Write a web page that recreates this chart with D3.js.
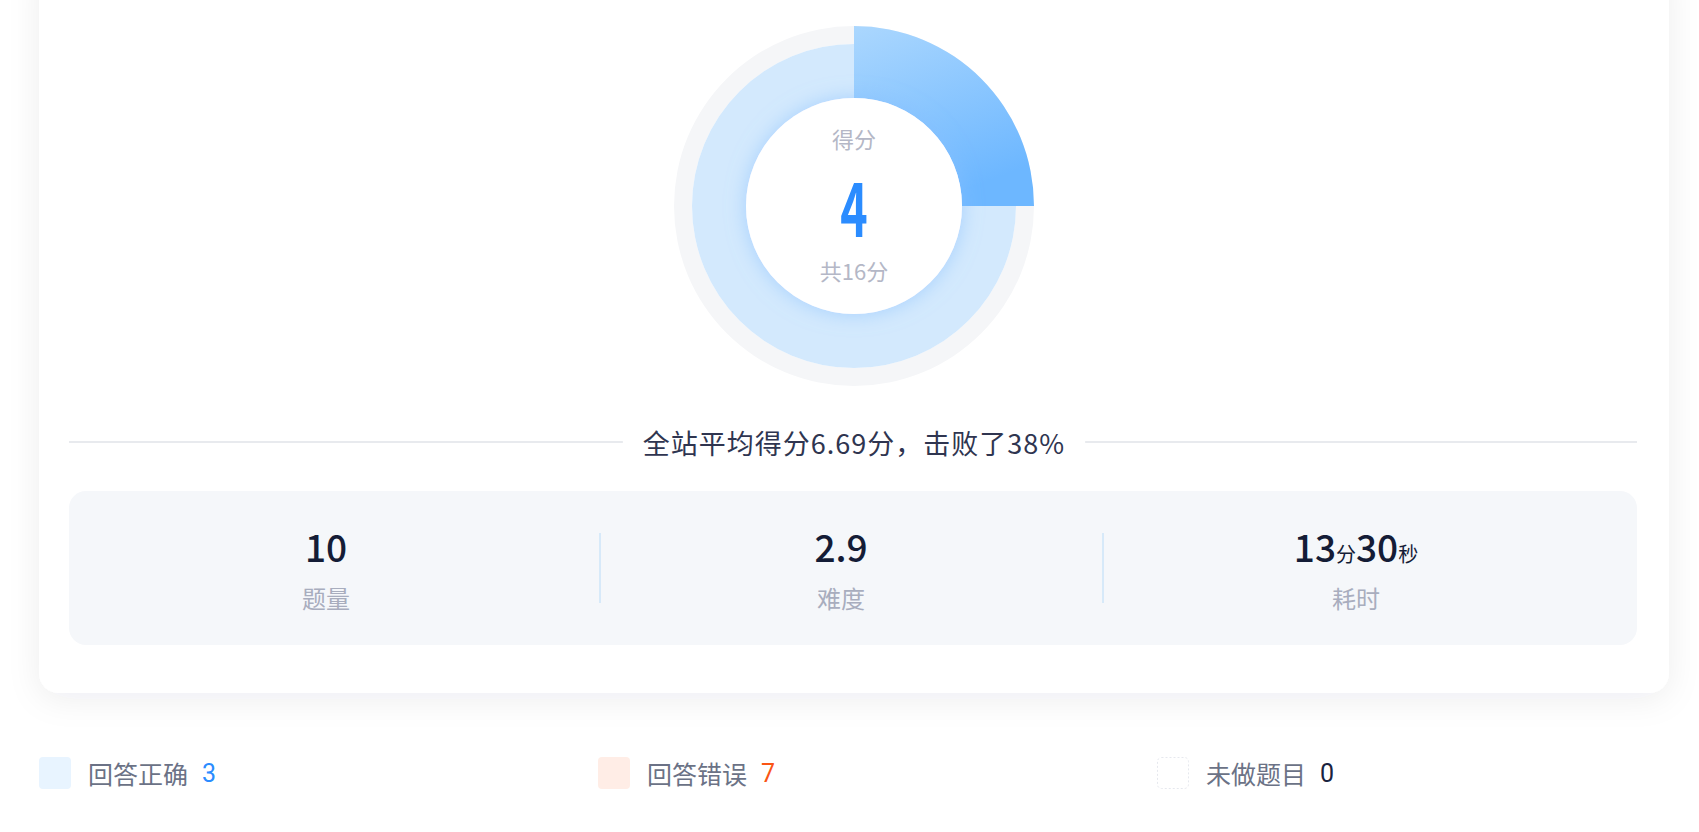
<!DOCTYPE html>
<html>
<head>
<meta charset="utf-8">
<script src="https://cdn.jsdelivr.net/npm/d3@7"></script>
<style>
  html, body { margin: 0; padding: 0; background: #ffffff; }
  svg { display: block; }
  text { font-family: "Noto Sans CJK SC", "Noto Sans", sans-serif; }
</style>
</head>
<body>
<svg id="chart" width="1699" height="832"></svg>
<script>
// ---------------- data ----------------
const scoreTitle = "得分";
const scoreValue = 4;
const scoreTotal = 16;
const scoreParts = [scoreValue, scoreTotal - scoreValue];

const avgScore = 6.69;
const beatPercent = 38;

const statLabels = ["题量", "难度", "耗时"];
const statValues = ["10", "2.9", null];
const timeMinutes = 13;
const timeSeconds = 30;

const legendCategories = ["回答正确", "回答错误", "未做题目"];
const legendCounts = [3, 7, 0];
const legendFill = ["#e8f4ff", "#ffede6", "#ffffff"];
const legendNumColor = ["#2b8cff", "#fa5514", "#1a2340"];

// ---------------- setup ----------------
const W = 1699, H = 832;
const svg = d3.select("#chart");
const defs = svg.append("defs");

const cardShadow = defs.append("filter").attr("id", "cardShadow")
  .attr("x", "-10%").attr("y", "-10%").attr("width", "120%").attr("height", "130%");
cardShadow.append("feDropShadow").attr("dx", 0).attr("dy", 6)
  .attr("stdDeviation", 16).attr("flood-color", "#1e2a50").attr("flood-opacity", 0.07);

const glow = defs.append("filter").attr("id", "glow")
  .attr("x", "-50%").attr("y", "-50%").attr("width", "200%").attr("height", "200%");
glow.append("feDropShadow").attr("dx", 0).attr("dy", 0)
  .attr("stdDeviation", 10).attr("flood-color", "#86c0ff").attr("flood-opacity", 0.6);

const cx = 854, cy = 206;
const rInner = 108, rMid = 162, rOuter = 180;

// gradient coordinates are in the donut group's local space
const grad = defs.append("linearGradient").attr("id", "scoreGrad")
  .attr("gradientUnits", "userSpaceOnUse")
  .attr("x1", 0).attr("y1", -rOuter).attr("x2", 70).attr("y2", 0);
grad.append("stop").attr("offset", "0%").attr("stop-color", "#abd7fe");
grad.append("stop").attr("offset", "100%").attr("stop-color", "#6db7ff");

// ---------------- card ----------------
svg.append("rect")
  .attr("x", 39).attr("y", -40).attr("width", 1669 - 39).attr("height", 693 + 40)
  .attr("rx", 20).attr("fill", "#ffffff").attr("filter", "url(#cardShadow)");

// ---------------- donut ----------------
const pie = d3.pie().sort(null).value(d => d);
const arcs = pie(scoreParts);
const g = svg.append("g").attr("transform", `translate(${cx},${cy})`);

// background track
g.append("path")
  .attr("d", d3.arc().innerRadius(rMid).outerRadius(rOuter).startAngle(0).endAngle(2 * Math.PI)())
  .attr("fill", "#f5f6f8");
// remaining (lost) part
g.append("path")
  .attr("d", d3.arc().innerRadius(rInner).outerRadius(rMid)(arcs[1]))
  .attr("fill", "#d3e9fd");
// earned part
g.append("path")
  .attr("d", d3.arc().innerRadius(rInner).outerRadius(rOuter)(arcs[0]))
  .attr("fill", "url(#scoreGrad)");
// inner white disk with glow
g.append("circle").attr("r", rInner).attr("fill", "#ffffff").attr("filter", "url(#glow)");

g.append("text").attr("x", 0).attr("y", 138 - cy).attr("text-anchor", "middle")
  .attr("dominant-baseline", "central").attr("font-size", 22).attr("fill", "#b4b7c6")
  .text(scoreTitle);
g.append("text").attr("x", 0).attr("y", 0)
  .attr("text-anchor", "middle")
  .attr("transform", `translate(0,${237 - cy}) scale(0.62,1)`)
  .attr("font-family", "'DejaVu Sans Condensed', 'DejaVu Sans', sans-serif")
  .attr("font-weight", "bold").attr("font-size", 75).attr("fill", "#2b8cff")
  .text(scoreValue);
g.append("text").attr("x", 0).attr("y", 270 - cy).attr("text-anchor", "middle")
  .attr("dominant-baseline", "central").attr("font-size", 22).attr("fill", "#b4b7c6")
  .text(`共${scoreTotal}分`);

// ---------------- divider + summary ----------------
const lineY = 442;
const summary = svg.append("text").attr("x", cx).attr("y", lineY)
  .attr("text-anchor", "middle").attr("dominant-baseline", "central")
  .attr("font-size", 27).attr("letter-spacing", 1).attr("fill", "#2f3550")
  .text(`全站平均得分${avgScore}分，击败了${beatPercent}%`);
const bb = summary.node().getBBox();
svg.append("line").attr("x1", 69).attr("x2", bb.x - 20).attr("y1", lineY).attr("y2", lineY)
  .attr("stroke", "#e8eaee").attr("stroke-width", 2);
svg.append("line").attr("x1", bb.x + bb.width + 20).attr("x2", 1637).attr("y1", lineY).attr("y2", lineY)
  .attr("stroke", "#e8eaee").attr("stroke-width", 2);

// ---------------- stats panel ----------------
svg.append("rect").attr("x", 69).attr("y", 491).attr("width", 1637 - 69).attr("height", 645 - 491)
  .attr("rx", 17).attr("fill", "#f5f7fa");

const statX = d3.scalePoint().domain(statLabels).range([326, 1356]);
const dividerX = [600, 1103];
dividerX.forEach(x => {
  svg.append("line").attr("x1", x).attr("x2", x).attr("y1", 533).attr("y2", 603)
    .attr("stroke", "#b9dcf8").attr("stroke-width", 1);
});

statLabels.forEach((lab, i) => {
  const x = statX(lab);
  const t = svg.append("text").attr("x", x).attr("y", 562).attr("text-anchor", "middle")
    .attr("fill", "#141c36").attr("font-weight", 500)
    .attr("font-family", "Roboto, 'Noto Sans CJK SC', sans-serif");
  if (statValues[i] !== null) {
    t.attr("font-size", 37).text(statValues[i]);
  } else {
    t.append("tspan").attr("font-size", 37).text(timeMinutes);
    t.append("tspan").attr("font-size", 20).attr("font-family", "'Noto Sans CJK SC'").attr("font-weight", 400).text("分");
    t.append("tspan").attr("font-size", 37).text(timeSeconds);
    t.append("tspan").attr("font-size", 20).attr("font-family", "'Noto Sans CJK SC'").attr("font-weight", 400).text("秒");
  }
  svg.append("text").attr("x", x).attr("y", 597).attr("text-anchor", "middle")
    .attr("dominant-baseline", "central").attr("font-size", 24).attr("fill", "#a8adbe")
    .text(lab);
});

// ---------------- legend ----------------
const legX = d3.scalePoint().domain(legendCategories).range([39, 1157]);
legendCategories.forEach((cat, i) => {
  const x = legX(cat);
  const sq = svg.append("rect").attr("x", x).attr("y", 757).attr("width", 32).attr("height", 32)
    .attr("rx", 4).attr("fill", legendFill[i]);
  if (i === 2) sq.attr("stroke", "#e6e8ee").attr("stroke-dasharray", "2,2").attr("stroke-width", 1)
    .attr("x", x + 0.5).attr("y", 757.5).attr("width", 31).attr("height", 31);
  const t = svg.append("text").attr("x", x + 49).attr("y", 773)
    .attr("dominant-baseline", "central").attr("font-size", 25);
  t.append("tspan").attr("fill", "#6b7286").text(cat);
  t.append("tspan").attr("dx", 14).attr("fill", legendNumColor[i])
    .attr("font-family", "Roboto, 'Noto Sans', sans-serif").attr("font-size", 25).text(legendCounts[i]);
});
</script>
</body>
</html>
